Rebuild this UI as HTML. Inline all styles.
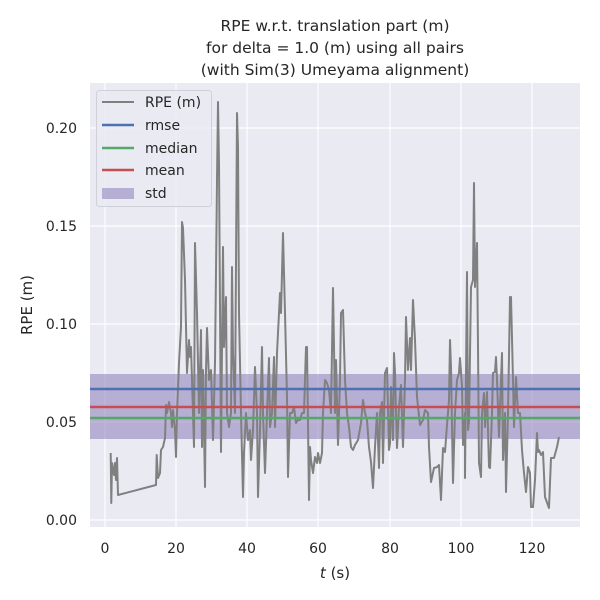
<!DOCTYPE html>
<html><head><style>body{margin:0;background:#fff}svg{display:block}text{font-family:"DejaVu Sans","Liberation Sans",sans-serif;fill:#262626}</style></head>
<body>
<svg width="600" height="600" viewBox="0 0 600 600">
<rect x="90" y="83" width="490" height="444" fill="#eaeaf2"/>
<g stroke="#fff" stroke-width="1.2">
<line x1="105" y1="83" x2="105" y2="527"/><line x1="176" y1="83" x2="176" y2="527"/><line x1="247" y1="83" x2="247" y2="527"/><line x1="318" y1="83" x2="318" y2="527"/><line x1="390" y1="83" x2="390" y2="527"/><line x1="461" y1="83" x2="461" y2="527"/><line x1="532" y1="83" x2="532" y2="527"/>
<line x1="90" y1="520" x2="580" y2="520"/><line x1="90" y1="422" x2="580" y2="422"/><line x1="90" y1="324" x2="580" y2="324"/><line x1="90" y1="226" x2="580" y2="226"/><line x1="90" y1="128" x2="580" y2="128"/>
</g>
<rect x="90" y="374" width="490" height="65" fill="#8172b3" fill-opacity="0.5"/>
<polyline fill="none" stroke="#808080" stroke-width="2" stroke-linejoin="round" points="110.7,453 111.3,503 112,463 114,475 115,463 116,480 117,458 118,495 156,485 156.7,455 158,478 160,473 161,450 163,447 165,438 166,405 167,413 169,402 171,413 172,427 173,410 175,430 176,457 177,413 179,363 181,327 182,222 183,228 185,280 187,373 189,340 190,357 191,347 193,413 194,447 195,243 197,313 199,413 201,330 202,447 203,370 205,487 206,370 207,328 209,380 211,370 213,440 215,363 217,180 218,102 219,163 221,452 223,247 224,347 226,297 227,413 229,427 231,413 232,267 233,353 235,413 237,113 238,147 239,313 241,413 243,497 244,453 246,413 248,440 250,430 251,460 253,430 255,367 257,413 258,497 260,430 262,347 263,413 265,473 267,413 269,358 270,427 272,413 274,357 275,427 277,353 279,313 280,293 281,313 283,233 285,313 287,397 288,477 290,413 292,413 294,407 296,423 298,420 300,420 302,413 304,413 306,347 307,347 309,500 310,447 311,460 313,473 315,457 317,463 318,453 320,463 322,453 323,413 325,380 327,383 329,390 331,413 333,288 334,347 335,413 336,360 338,445 340,380 341,313 343,310 345,380 347,413 349,427 351,447 353,450 355,445 358,440 361,423 363,400 365,413 367,420 369,447 371,462 373,488 375,447 377,413 379,468 380,413 382,402 383,463 385,373 387,368 389,450 390,443 391,387 393,440 394,353 395,373 397,448 399,407 401,385 403,447 405,380 406,317 408,370 410,338 411,370 413,300 415,340 417,397 420,425 423,420 425,410 428,413 429,447 431,482 434,468 437,467 439,465 441,500 443,448 445,452 447,425 449,400 450,340 451,367 453,483 455,413 457,380 459,373 460,358 462,387 463,445 465,413 465,478 467,272 468,430 469,422 471,287 473,280 474,183 475,287 477,243 478,347 479,463 481,477 482,413 484,393 485,427 487,392 489,467 490,468 492,413 493,373 495,372 496,357 497,380 499,437 501,380 502,353 503,460 505,413 506,492 508,413 510,297 511,297 513,380 514,427 516,377 518,413 520,413 522,450 524,473 526,492 528,467 530,473 531,507 533,507 535,480 537,433 538,452 539,450 541,455 543,452 545,497 549,508 551,458 554,458 557,447 559,437"/>
<line x1="90" y1="389" x2="580" y2="389" stroke="#4c72b0" stroke-width="2.5"/>
<line x1="90" y1="418" x2="580" y2="418" stroke="#55a868" stroke-width="2.5"/>
<line x1="90" y1="407" x2="580" y2="407" stroke="#c44e52" stroke-width="2.5"/>
<rect x="96.5" y="90.5" width="115" height="116" rx="3" fill="#eaeaf2" fill-opacity="0.8" stroke="#d0d0d8"/>
<g stroke-width="2.5"><line x1="102" y1="102" x2="134" y2="102" stroke="#808080" stroke-width="2"/><line x1="102" y1="125" x2="134" y2="125" stroke="#4c72b0"/><line x1="102" y1="148" x2="134" y2="148" stroke="#55a868"/><line x1="102" y1="170" x2="134" y2="170" stroke="#c44e52"/></g>
<rect x="102" y="188" width="32" height="11" fill="#8172b3" fill-opacity="0.5"/>
<g font-size="14"><text x="145" y="107">RPE (m)</text><text x="145" y="130">rmse</text><text x="145" y="153">median</text><text x="145" y="175">mean</text><text x="145" y="198">std</text></g>
<g font-size="14" text-anchor="end"><text x="77" y="525">0.00</text><text x="77" y="427">0.05</text><text x="77" y="329">0.10</text><text x="77" y="231">0.15</text><text x="77" y="133">0.20</text></g>
<g font-size="14" text-anchor="middle"><text x="105" y="553">0</text><text x="176" y="553">20</text><text x="247" y="553">40</text><text x="318" y="553">60</text><text x="390" y="553">80</text><text x="461" y="553">100</text><text x="532" y="553">120</text></g>
<text x="335" y="578" font-size="15" text-anchor="middle"><tspan font-style="italic">t</tspan> (s)</text>
<text x="32" y="305" font-size="15" text-anchor="middle" transform="rotate(-90 32 305)">RPE (m)</text>
<g font-size="15.5" text-anchor="middle"><text x="335" y="31">RPE w.r.t. translation part (m)</text><text x="335" y="53">for delta = 1.0 (m) using all pairs</text><text x="335" y="75">(with Sim(3) Umeyama alignment)</text></g>
</svg>
</body></html>
